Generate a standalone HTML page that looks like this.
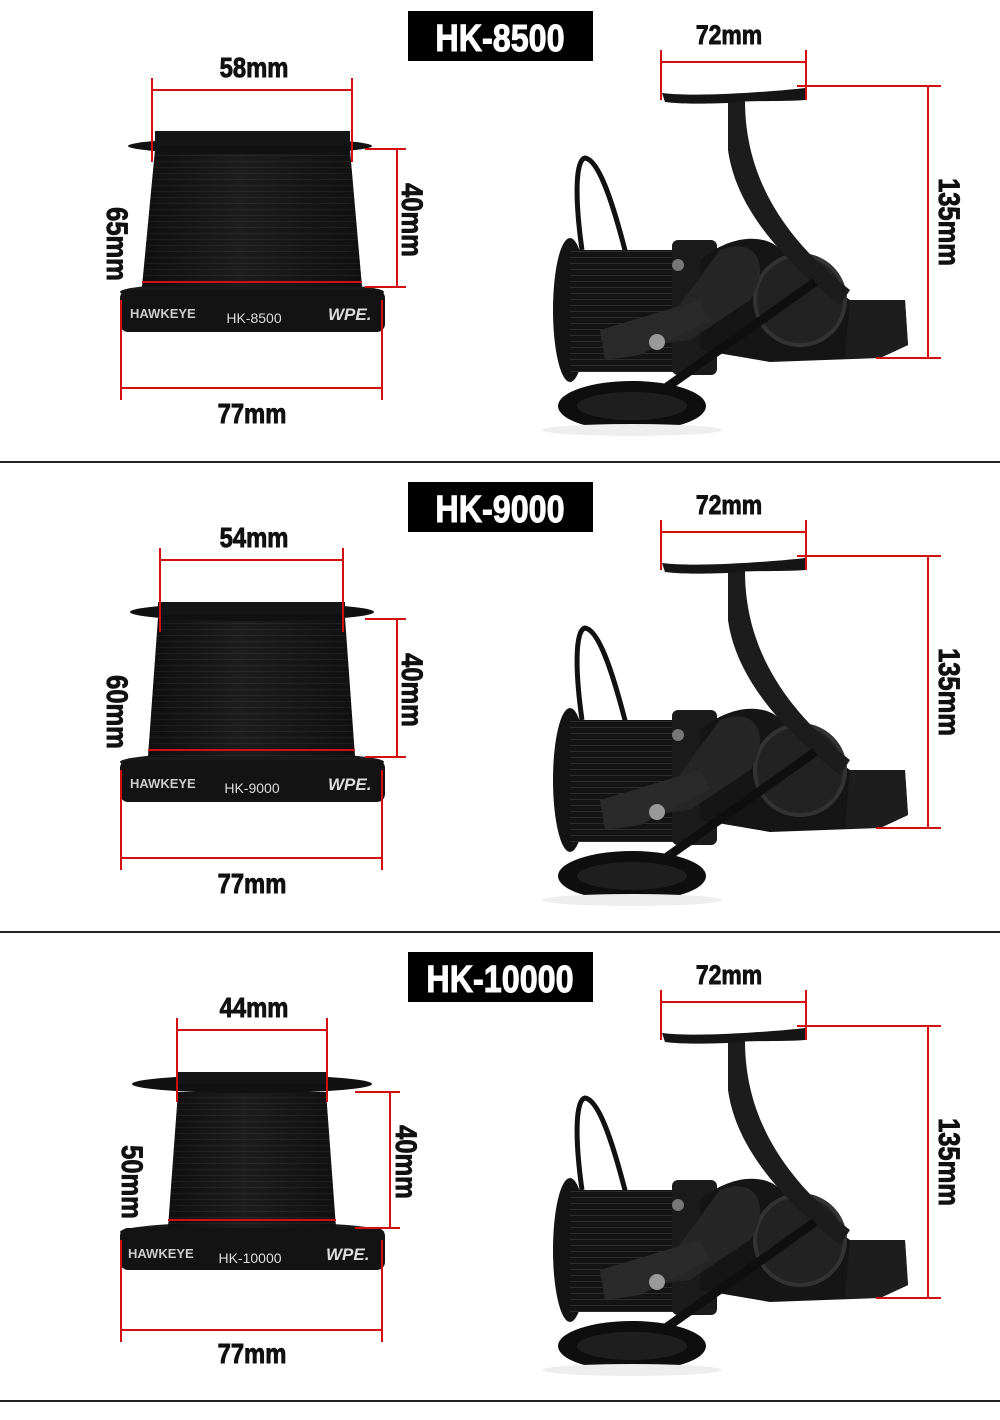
<!DOCTYPE html>
<html><head><meta charset="utf-8"><style>
html,body{margin:0;padding:0;background:#fff}
svg{display:block}
.t{font-family:"Liberation Sans",sans-serif;font-weight:bold;fill:#111;stroke:#111;stroke-width:0.9}
</style></head><body>
<svg width="1000" height="1420" viewBox="0 0 1000 1420" xmlns="http://www.w3.org/2000/svg">
<defs>
<linearGradient id="sp" x1="0" x2="1" y1="0" y2="0">
<stop offset="0" stop-color="#0a0a0a"/><stop offset="0.45" stop-color="#262626"/><stop offset="1" stop-color="#0c0c0c"/>
</linearGradient>
<pattern id="gr" width="400" height="6" patternUnits="userSpaceOnUse"><rect width="400" height="6" fill="#141414"/><line x1="0" y1="5.5" x2="400" y2="5.5" stroke="#333" stroke-width="0.8"/></pattern>
<g id="reel">
<path d="M582,250 C575,200 575,160 585,158 C600,160 615,210 628,262" fill="none" stroke="#111" stroke-width="5"/>
<ellipse cx="570" cy="310" rx="17" ry="72" fill="#141414"/>
<rect x="570" y="250" width="110" height="122" fill="url(#gr)"/>
<rect x="672" y="240" width="45" height="135" rx="6" fill="#1b1b1b"/>
<circle cx="678" cy="265" r="6" fill="#777"/>
<path d="M700,260 C730,235 760,235 775,245 L850,300 L905,300 L908,345 L880,358 L770,362 L700,350 Z" fill="#151515"/>
<circle cx="800" cy="300" r="45" fill="#222" stroke="#333" stroke-width="4"/>
<path d="M850,300 L905,300 L908,345 L880,358 L845,358 Z" fill="#1d1d1d"/>
<path d="M720,250 C760,235 770,270 750,300 L690,340 L650,345 Z" fill="#262626"/>
<path d="M728,100 L745,100 C745,150 760,220 850,290 L840,305 C770,250 735,200 728,150 Z" fill="#1c1c1c"/>
<path d="M662,93 C700,98 790,90 805,88 L805,100 C780,102 745,100 728,103 C700,104 680,104 665,102 Z" fill="#151515"/>
<path d="M600,330 L700,300 L710,320 L640,355 L605,360 Z" fill="#2a2a2a"/>
<circle cx="657" cy="342" r="8" fill="#999"/>
<line x1="660" y1="392" x2="815" y2="282" stroke="#0f0f0f" stroke-width="9"/>
<ellipse cx="632" cy="406" rx="74" ry="25" fill="#0e0e0e"/>
<ellipse cx="632" cy="406" rx="55" ry="14" fill="#1e1e1e"/>
<ellipse cx="632" cy="430" rx="90" ry="6" fill="#eee"/>
<g stroke="#d21010" stroke-width="2" fill="none">
<line x1="660" y1="62" x2="807" y2="62"/>
<line x1="661" y1="50" x2="661" y2="100"/>
<line x1="806" y1="50" x2="806" y2="100"/>
<line x1="797" y1="86" x2="941" y2="86"/>
<line x1="876" y1="358" x2="941" y2="358"/>
<line x1="928" y1="86" x2="928" y2="358"/>
</g>
<text class="t" x="729" y="44" font-size="27" text-anchor="middle" transform="translate(729 0) scale(0.85 1) translate(-729 0)">72mm</text>
<text class="t" font-size="30" transform="translate(939,222) rotate(90) scale(0.85 1)" text-anchor="middle">135mm</text>
</g>
</defs>

<rect x="0" y="461" width="1000" height="2" fill="#222"/>
<rect x="0" y="931" width="1000" height="2" fill="#222"/>
<rect x="0" y="1400" width="1000" height="2" fill="#222"/>

<rect x="408" y="11" width="185" height="50" fill="#000"/>
<text x="500" y="51" font-size="38" fill="#fff" stroke="#fff" stroke-width="1" font-family="Liberation Sans,sans-serif" font-weight="bold" text-anchor="middle" transform="translate(500 0) scale(0.85 1) translate(-500 0)">HK-8500</text>
<rect x="408" y="482" width="185" height="50" fill="#000"/>
<text x="500" y="522" font-size="38" fill="#fff" stroke="#fff" stroke-width="1" font-family="Liberation Sans,sans-serif" font-weight="bold" text-anchor="middle" transform="translate(500 0) scale(0.85 1) translate(-500 0)">HK-9000</text>
<rect x="408" y="952" width="185" height="50" fill="#000"/>
<text x="500" y="992" font-size="38" fill="#fff" stroke="#fff" stroke-width="1" font-family="Liberation Sans,sans-serif" font-weight="bold" text-anchor="middle" transform="translate(500 0) scale(0.85 1) translate(-500 0)">HK-10000</text>

<use href="#reel"/>
<use href="#reel" y="470"/>
<use href="#reel" y="940"/>

<!-- spool 1 -->
<ellipse cx="252" cy="292" rx="132" ry="10" fill="#1a1a1a"/>
<rect x="120" y="290" width="265" height="42" rx="8" fill="#131313"/>
<path d="M155,150 L350,150 L362,287 L142,287 Z" fill="url(#gr)"/>
<path d="M155,150 L350,150 L362,287 L142,287 Z" fill="url(#sp)" opacity="0.5"/>
<ellipse cx="250" cy="146" rx="122" ry="8" fill="#111"/>
<rect x="155" y="131" width="195" height="15" fill="#151515"/>
<text x="130" y="318" font-size="13" fill="#ccc" font-family="Liberation Sans,sans-serif" font-weight="bold">HAWKEYE</text>
<text x="254" y="323" font-size="14" fill="#ddd" font-family="Liberation Sans,sans-serif" text-anchor="middle">HK-8500</text>
<text x="328" y="320" font-size="17" fill="#ddd" font-family="Liberation Sans,sans-serif" font-weight="bold" font-style="italic">WPE.</text>
<g stroke="#d21010" stroke-width="2">
<line x1="152" y1="90" x2="352" y2="90"/><line x1="152" y1="78" x2="152" y2="162"/><line x1="352" y1="78" x2="352" y2="162"/>
<line x1="142" y1="282" x2="362" y2="282"/>
<line x1="365" y1="149" x2="406" y2="149"/><line x1="365" y1="287" x2="406" y2="287"/><line x1="397" y1="149" x2="397" y2="287"/>
<line x1="121" y1="300" x2="121" y2="400"/><line x1="382" y1="300" x2="382" y2="400"/><line x1="121" y1="388" x2="382" y2="388"/>
</g>
<text class="t" x="254" y="77" font-size="28" text-anchor="middle" transform="translate(254 0) scale(0.85 1) translate(-254 0)">58mm</text>
<text class="t" x="252" y="423" font-size="28" text-anchor="middle" transform="translate(252 0) scale(0.85 1) translate(-252 0)">77mm</text>
<text class="t" font-size="30" transform="translate(107,244) rotate(90) scale(0.85 1)" text-anchor="middle">65mm</text>
<text class="t" font-size="30" transform="translate(402,220) rotate(90) scale(0.85 1)" text-anchor="middle">40mm</text>

<!-- spool 2 -->
<ellipse cx="252" cy="762" rx="132" ry="10" fill="#1a1a1a"/>
<rect x="120" y="760" width="265" height="42" rx="8" fill="#131313"/>
<path d="M158,618 L345,618 L355,757 L148,757 Z" fill="url(#gr)"/>
<path d="M158,618 L345,618 L355,757 L148,757 Z" fill="url(#sp)" opacity="0.5"/>
<ellipse cx="252" cy="612" rx="122" ry="9" fill="#111"/>
<rect x="158" y="602" width="187" height="12" fill="#151515"/>
<text x="130" y="788" font-size="13" fill="#ccc" font-family="Liberation Sans,sans-serif" font-weight="bold">HAWKEYE</text>
<text x="252" y="793" font-size="14" fill="#ddd" font-family="Liberation Sans,sans-serif" text-anchor="middle">HK-9000</text>
<text x="328" y="790" font-size="17" fill="#ddd" font-family="Liberation Sans,sans-serif" font-weight="bold" font-style="italic">WPE.</text>
<g stroke="#d21010" stroke-width="2">
<line x1="160" y1="560" x2="343" y2="560"/><line x1="160" y1="548" x2="160" y2="632"/><line x1="343" y1="548" x2="343" y2="632"/>
<line x1="148" y1="750" x2="355" y2="750"/>
<line x1="365" y1="619" x2="406" y2="619"/><line x1="365" y1="757" x2="406" y2="757"/><line x1="397" y1="619" x2="397" y2="757"/>
<line x1="121" y1="770" x2="121" y2="870"/><line x1="382" y1="770" x2="382" y2="870"/><line x1="121" y1="858" x2="382" y2="858"/>
</g>
<text class="t" x="254" y="547" font-size="28" text-anchor="middle" transform="translate(254 0) scale(0.85 1) translate(-254 0)">54mm</text>
<text class="t" x="252" y="893" font-size="28" text-anchor="middle" transform="translate(252 0) scale(0.85 1) translate(-252 0)">77mm</text>
<text class="t" font-size="30" transform="translate(107,712) rotate(90) scale(0.85 1)" text-anchor="middle">60mm</text>
<text class="t" font-size="30" transform="translate(402,690) rotate(90) scale(0.85 1)" text-anchor="middle">40mm</text>

<!-- spool 3 -->
<ellipse cx="252" cy="1232" rx="132" ry="10" fill="#1a1a1a"/>
<rect x="120" y="1228" width="265" height="42" rx="8" fill="#131313"/>
<path d="M178,1092 L326,1092 L336,1228 L168,1228 Z" fill="url(#gr)"/>
<path d="M178,1092 L326,1092 L336,1228 L168,1228 Z" fill="url(#sp)" opacity="0.5"/>
<ellipse cx="252" cy="1084" rx="120" ry="9" fill="#111"/>
<rect x="178" y="1072" width="148" height="12" fill="#151515"/>
<text x="128" y="1258" font-size="13" fill="#ccc" font-family="Liberation Sans,sans-serif" font-weight="bold">HAWKEYE</text>
<text x="250" y="1263" font-size="14" fill="#ddd" font-family="Liberation Sans,sans-serif" text-anchor="middle">HK-10000</text>
<text x="326" y="1260" font-size="17" fill="#ddd" font-family="Liberation Sans,sans-serif" font-weight="bold" font-style="italic">WPE.</text>
<g stroke="#d21010" stroke-width="2">
<line x1="177" y1="1030" x2="327" y2="1030"/><line x1="177" y1="1018" x2="177" y2="1102"/><line x1="327" y1="1018" x2="327" y2="1102"/>
<line x1="168" y1="1220" x2="336" y2="1220"/>
<line x1="355" y1="1092" x2="400" y2="1092"/><line x1="355" y1="1228" x2="400" y2="1228"/><line x1="390" y1="1092" x2="390" y2="1228"/>
<line x1="121" y1="1240" x2="121" y2="1342"/><line x1="382" y1="1240" x2="382" y2="1342"/><line x1="121" y1="1330" x2="382" y2="1330"/>
</g>
<text class="t" x="254" y="1017" font-size="28" text-anchor="middle" transform="translate(254 0) scale(0.85 1) translate(-254 0)">44mm</text>
<text class="t" x="252" y="1363" font-size="28" text-anchor="middle" transform="translate(252 0) scale(0.85 1) translate(-252 0)">77mm</text>
<text class="t" font-size="30" transform="translate(122,1182) rotate(90) scale(0.85 1)" text-anchor="middle">50mm</text>
<text class="t" font-size="30" transform="translate(396,1162) rotate(90) scale(0.85 1)" text-anchor="middle">40mm</text>
</svg>
</body></html>
